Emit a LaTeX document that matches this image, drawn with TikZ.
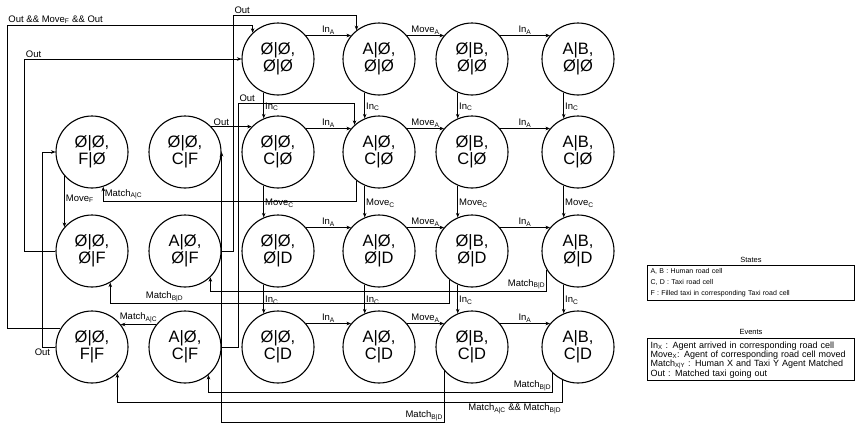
\documentclass[tikz,border=0pt]{standalone}
\usepackage{fontspec}
\setmainfont{Liberation Sans}
\usepackage{tikz}
\usetikzlibrary{arrows.meta,positioning}

\begin{document}
\begin{tikzpicture}[
  x=1pt, y=-1pt,
  state/.style={draw, circle, line width=1.1pt, minimum size=72pt, inner sep=0pt, align=center, font=\fontsize{16.5}{17.5}\selectfont},
  arr/.style={-{Stealth[length=4.5pt,width=3.6pt]}, line width=0.6pt},
  lbl/.style={font=\fontsize{9.5}{10}\selectfont, inner sep=1.2pt},
  legbox/.style={draw, line width=1pt, rectangle, anchor=north west, text width=201pt, align=left, inner sep=3pt},
  legtitle/.style={font=\fontsize{7.5}{8}\selectfont, inner sep=1pt}
]
\useasboundingbox (0,0) rectangle (857,426);

% states
\node[state] (eeee) at (278,59) {Ø|Ø,\\Ø|Ø};
\node[state] (aeee) at (379,59) {A|Ø,\\Ø|Ø};
\node[state] (ebee) at (472,59) {Ø|B,\\Ø|Ø};
\node[state] (abee) at (578,59) {A|B,\\Ø|Ø};

\node[state] (eefe) at (92,152) {Ø|Ø,\\F|Ø};
\node[state] (eecf) at (185,152) {Ø|Ø,\\C|F};
\node[state] (eece) at (278,152) {Ø|Ø,\\C|Ø};
\node[state] (aece) at (379,152) {A|Ø,\\C|Ø};
\node[state] (ebce) at (472,152) {Ø|B,\\C|Ø};
\node[state] (abce) at (578,152) {A|B,\\C|Ø};

\node[state] (eeef) at (92,251) {Ø|Ø,\\Ø|F};
\node[state] (aeef) at (185,251) {A|Ø,\\Ø|F};
\node[state] (eeed) at (278,251) {Ø|Ø,\\Ø|D};
\node[state] (aeed) at (379,251) {A|Ø,\\Ø|D};
\node[state] (ebed) at (472,251) {Ø|B,\\Ø|D};
\node[state] (abed) at (578,251) {A|B,\\Ø|D};

\node[state] (eeff) at (92,347) {Ø|Ø,\\F|F};
\node[state] (aecf) at (185,347) {A|Ø,\\C|F};
\node[state] (eecd) at (278,347) {Ø|Ø,\\C|D};
\node[state] (aecd) at (379,347) {A|Ø,\\C|D};
\node[state] (ebcd) at (472,347) {Ø|B,\\C|D};
\node[state] (abcd) at (578,347) {A|B,\\C|D};

% grid transitions
\draw[arr] (eeee.40) -- node[lbl, above] {In\textsubscript{A}} (aeee.140);
\draw[arr] (aeee.40) -- node[lbl, above] {Move\textsubscript{A}} (ebee.140);
\draw[arr] (ebee.40) -- node[lbl, above] {In\textsubscript{A}} (abee.140);
\draw[arr] (eece.40) -- node[lbl, above] {In\textsubscript{A}} (aece.140);
\draw[arr] (aece.40) -- node[lbl, above] {Move\textsubscript{A}} (ebce.140);
\draw[arr] (ebce.40) -- node[lbl, above] {In\textsubscript{A}} (abce.140);
\draw[arr] (eeed.40) -- node[lbl, above] {In\textsubscript{A}} (aeed.140);
\draw[arr] (aeed.40) -- node[lbl, above] {Move\textsubscript{A}} (ebed.140);
\draw[arr] (ebed.40) -- node[lbl, above] {In\textsubscript{A}} (abed.140);
\draw[arr] (eecd.40) -- node[lbl, above] {In\textsubscript{A}} (aecd.140);
\draw[arr] (aecd.40) -- node[lbl, above] {Move\textsubscript{A}} (ebcd.140);
\draw[arr] (ebcd.40) -- node[lbl, above] {In\textsubscript{A}} (abcd.140);

\draw[arr] (eeee.247) -- node[lbl, right, pos=0.55] {In\textsubscript{C}} (eece.113);
\draw[arr] (aeee.247) -- node[lbl, right, pos=0.55] {In\textsubscript{C}} (aece.113);
\draw[arr] (ebee.247) -- node[lbl, right, pos=0.55] {In\textsubscript{C}} (ebce.113);
\draw[arr] (abee.247) -- node[lbl, right, pos=0.55] {In\textsubscript{C}} (abce.113);
\draw[arr] (eece.247) -- node[lbl, right, pos=0.55] {Move\textsubscript{C}} (eeed.113);
\draw[arr] (aece.247) -- node[lbl, right, pos=0.55] {Move\textsubscript{C}} (aeed.113);
\draw[arr] (ebce.247) -- node[lbl, right, pos=0.55] {Move\textsubscript{C}} (ebed.113);
\draw[arr] (abce.247) -- node[lbl, right, pos=0.55] {Move\textsubscript{C}} (abed.113);
\draw[arr] (eeed.247) -- node[lbl, right, pos=0.55] {In\textsubscript{C}} (eecd.113);
\draw[arr] (aeed.247) -- node[lbl, right, pos=0.55] {In\textsubscript{C}} (aecd.113);
\draw[arr] (ebed.247) -- node[lbl, right, pos=0.55] {In\textsubscript{C}} (ebcd.113);
\draw[arr] (abed.247) -- node[lbl, right, pos=0.55] {In\textsubscript{C}} (abcd.113);

% filled taxi, match and out transitions
\draw[arr] (eeff.150) -| (7,25) -| node[lbl, above right, pos=0] {Out \&\& Move\textsubscript{F} \&\& Out} (eeee.134);
\draw[arr] (eeef.west) -- ++(-31,0) |- node[lbl, above right, pos=0.5] {Out} (eeee.west);
\draw[arr] (eeff.west) -- ++(-13,0) node[lbl, below] {Out} |- (eefe.west);
\draw[arr] (eefe.221) -- node[lbl, right, pos=0.45] {Move\textsubscript{F}} (eeef.139);
\draw[arr] (aece.232) -- ++(0,20) -| node[lbl, above right, pos=0.5] {Match\textsubscript{A|C}} (eefe.288);
\draw[arr] (ebed.232) -- ++(0,23.5) -| node[lbl, above, pos=0.42] {Match\textsubscript{B|D}} (eeef.300);
\draw[arr] (abed.211) -- ++(0,21) -| node[lbl, above left, pos=0] {Match\textsubscript{B|D}} (aeef.314);
\draw[arr] (ebcd.221) -- ++(0,51) -| node[lbl, above left, pos=0] {Match\textsubscript{B|D}} (eecf.east);
\draw[arr] (abcd.226) -- ++(0,19) -| node[lbl, above left, pos=0] {Match\textsubscript{B|D}} (aecf.310);
\draw[arr] (abcd.245) -- ++(0,22) -| node[lbl, below left, pos=0] {Match\textsubscript{A|C} \&\& Match\textsubscript{B|D}} (eeff.314);
\draw[arr] (aecf.142) -- node[lbl, above] {Match\textsubscript{A|C}} (eeff.38);
\draw[arr] (aeef.east) -| (233,15) -| node[lbl, above right, pos=0] {Out} (aeee.128);
\draw[arr] (aecf.east) -| (238,103) -| node[lbl, above right, pos=0] {Out} (aece.132);
\draw[arr] (eecf.44) -- node[lbl, above, pos=0.25] {Out} (eece.136);

% legend
\node[legbox, font=\fontsize{7}{11}\selectfont] (stbox) at (647,265) {A, B : Human road cell\\C, D : Taxi road cell\\F : Filled taxi in corresponding Taxi road cell};
\node[legtitle, above=1.5pt of stbox] (sttl) {States};
\node[legbox, font=\fontsize{9}{9}\selectfont] (evbox) at (647,338) {In\textsubscript{X} : Agent arrived in corresponding road cell\\Move\textsubscript{X}: Agent of corresponding road cell moved\\Match\textsubscript{X|Y} : Human X and Taxi Y Agent Matched\\Out : Matched taxi going out};
\node[legtitle, above=2pt of evbox] (evtl) {Events};

\end{tikzpicture}
\end{document}
